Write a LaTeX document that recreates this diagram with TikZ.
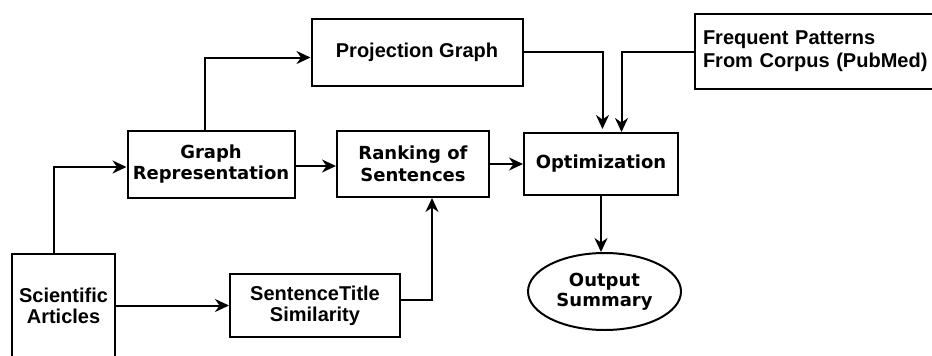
\documentclass[tikz,border=0pt]{standalone}
\usepackage{fontspec}
\usetikzlibrary{arrows.meta,shapes.geometric}
\newfontfamily\djv{DejaVu Sans}
\newfontfamily\lib{Liberation Sans}
\tikzset{
  box/.style={draw, line width=2pt, inner sep=0pt, align=center},
  dvtext/.style={font=\djv\bfseries\fontsize{18}{21.5}\selectfont},
  lbtext/.style={font=\lib\bfseries\fontsize{20}{20.5}\selectfont},
  arr/.style={line width=2pt, -{Stealth[length=14pt,width=13pt,inset=4.5pt]}},
}
\begin{document}
\begin{tikzpicture}[x=1pt,y=-1pt]
  \clip (0,0) rectangle (932,356);
  % process boxes
  \node[box, lbtext, minimum width=103pt, minimum height=104pt] (sa) at (63.5,306) {Scientific\\Articles};
  \node[box, dvtext, minimum width=167pt, minimum height=67pt] (gr) at (211,164) {Graph\\Representation};
  \node[box, dvtext, minimum width=152pt, minimum height=66pt] (rk) at (413,164) {Ranking of\\Sentences};
  \node[box, dvtext, minimum width=154pt, minimum height=62pt] (opt) at (601,164) {Optimization};
  \node[box, lbtext, minimum width=211pt, minimum height=67pt] (pg) at (417,52.5) {Projection Graph};
  \node[box, lbtext, font=\lib\bfseries\fontsize{20}{23}\selectfont, minimum height=75pt, text width=229pt, inner xsep=8pt, align=left] (fp) at (817.5,51.5) {Frequent Patterns\\From Corpus (PubMed)\vphantom{p}\\[-6pt]};
  \node[box, lbtext, font=\lib\bfseries\fontsize{20}{21}\selectfont, minimum width=170pt, minimum height=63pt] (st) at (315,305.5) {SentenceTitle\\Similarity};
  \node[box, dvtext, font=\djv\bfseries\fontsize{18}{20}\selectfont, ellipse, minimum width=153pt, minimum height=77pt] (out) at (604.5,291.5) {Output\\Summary};
  % connectors
  \draw[arr] ([xshift=-9.5pt]sa.north) |- ([yshift=-3pt]gr.west);
  \draw[arr] ([xshift=-6pt]gr.north) |- ([yshift=-5pt]pg.west);
  \draw[arr] ([yshift=-2pt]gr.east) -- ([yshift=-2pt]rk.west);
  \draw[arr] (rk.east) -- (opt.west);
  \draw[arr, shorten >=3pt] ([yshift=1pt]pg.east) -| ([xshift=1.5pt]opt.north);
  \draw[arr] (fp.west) -| ([xshift=20.5pt]opt.north);
  \draw[arr] (sa.east |- st.west) -- (st.west);
  \draw[arr] ([yshift=6pt]st.east) -| ([xshift=19pt]rk.south);
  \draw[arr] (opt.south) -- (opt.south |- out.north);
\end{tikzpicture}
\end{document}
